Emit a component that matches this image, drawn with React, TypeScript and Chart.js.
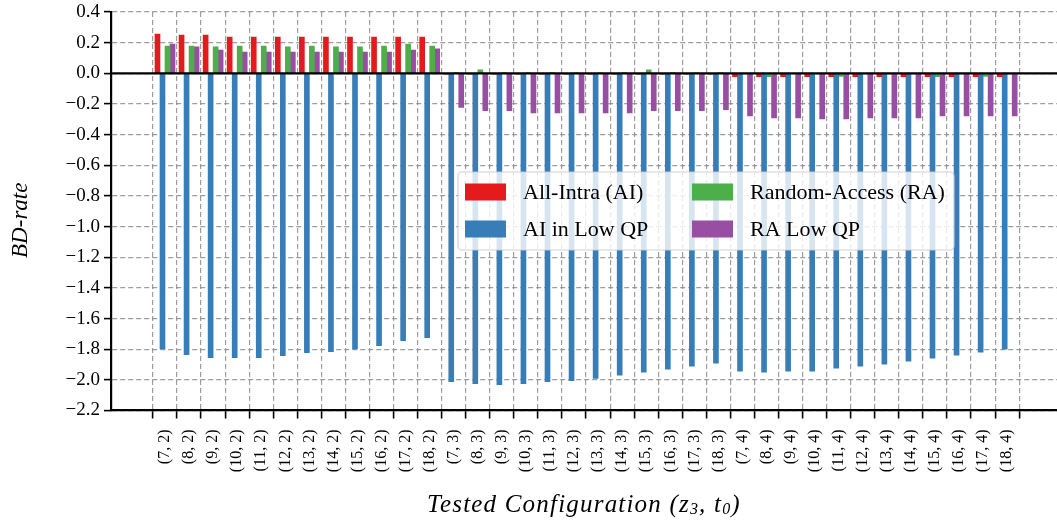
import React, { useEffect, useRef } from "react";
import { Chart, registerables } from "chart.js";

Chart.register(...registerables);

const zValues = [7, 8, 9, 10, 11, 12, 13, 14, 15, 16, 17, 18];
const tValues = [2, 3, 4];
const categories: string[] = tValues.flatMap((t) => zValues.map((z) => `(${z}, ${t})`));

const aiValues = [
  0.256, 0.25, 0.25, 0.237, 0.237, 0.237, 0.237, 0.237, 0.237, 0.237, 0.237, 0.237,
  -0.005, -0.005, -0.005, -0.005, -0.005, -0.005, -0.005, -0.005, -0.005, -0.005, -0.005, -0.005,
  -0.022, -0.022, -0.022, -0.022, -0.022, -0.022, -0.022, -0.022, -0.022, -0.022, -0.022, -0.022,
];
const aiLowQpValues = [
  -1.798, -1.835, -1.855, -1.855, -1.855, -1.842, -1.822, -1.816, -1.798, -1.777, -1.744, -1.725,
  -2.012, -2.025, -2.031, -2.025, -2.012, -2.005, -1.99, -1.97, -1.95, -1.93, -1.911, -1.891,
  -1.943, -1.95, -1.943, -1.943, -1.924, -1.911, -1.898, -1.878, -1.859, -1.839, -1.82, -1.8,
];
const raValues = [
  0.178, 0.178, 0.172, 0.178, 0.178, 0.172, 0.178, 0.172, 0.172, 0.178, 0.191, 0.178,
  0.004, 0.022, 0.004, 0.002, 0.004, 0.002, 0.002, 0.004, 0.022, 0.004, 0.002, 0.002,
  -0.004, -0.022, -0.004, -0.004, -0.02, -0.004, -0.004, -0.004, -0.022, -0.004, -0.02, -0.004,
];
const raLowQpValues = [
  0.191, 0.172, 0.152, 0.139, 0.139, 0.139, 0.139, 0.139, 0.139, 0.139, 0.152, 0.159,
  -0.222, -0.244, -0.244, -0.258, -0.258, -0.258, -0.258, -0.258, -0.244, -0.244, -0.244, -0.238,
  -0.278, -0.291, -0.291, -0.298, -0.298, -0.291, -0.291, -0.291, -0.278, -0.278, -0.278, -0.278,
];

const seriesNames = ["All-Intra (AI)", "AI in Low QP", "Random-Access (RA)", "RA Low QP"];
const seriesColors = ["#e41a1c", "#377eb8", "#4daf4a", "#984ea3"];
const seriesValues = [aiValues, aiLowQpValues, raValues, raLowQpValues];

const yTitle = "BD-rate";
const xTitlePrefix = "Tested Configuration (";
const xTitleSuffix = ")";

const FONT = "'Liberation Serif', 'Times New Roman', serif";

const titlesPlugin = {
  id: "axisTitles",
  afterDraw(chart: any) {
    const { ctx, chartArea } = chart;
    ctx.save();
    ctx.fillStyle = "#000";
    // y title
    ctx.save();
    ctx.translate(21, (chartArea.top + chartArea.bottom) / 2 + 9);
    ctx.rotate(-Math.PI / 2);
    ctx.font = `italic 23px ${FONT}`;
    ctx.textAlign = "center";
    ctx.textBaseline = "middle";
    ctx.fillText(yTitle, 0, 0);
    ctx.restore();
    // x title with subscripts
    const cx = (chartArea.left + chartArea.right) / 2;
    const cy = 505;
    const big = `italic 25px ${FONT}`;
    const small = `italic 16px ${FONT}`;
    (ctx as any).letterSpacing = "1.2px";
    const parts: [string, string, number][] = [
      [xTitlePrefix, big, 0],
      ["z", big, 0],
      ["3", small, 5],
      [", ", big, 0],
      ["t", big, 0],
      ["0", small, 5],
      [xTitleSuffix, big, 0],
    ];
    let total = 0;
    for (const [t, f] of parts) {
      ctx.font = f;
      total += ctx.measureText(t).width;
    }
    let x = cx - total / 2;
    ctx.textAlign = "left";
    ctx.textBaseline = "middle";
    for (const [t, f, dy] of parts) {
      ctx.font = f;
      ctx.fillText(t, x, cy + dy);
      x += ctx.measureText(t).width;
    }
    ctx.restore();
  },
};

const legendPlugin = {
  id: "insideLegend",
  afterDraw(chart: any) {
    const ctx = chart.ctx;
    const x0 = 458, y0 = 172, w = 496, h = 78, r = 4;
    ctx.save();
    ctx.beginPath();
    ctx.moveTo(x0 + r, y0);
    ctx.arcTo(x0 + w, y0, x0 + w, y0 + h, r);
    ctx.arcTo(x0 + w, y0 + h, x0, y0 + h, r);
    ctx.arcTo(x0, y0 + h, x0, y0, r);
    ctx.arcTo(x0, y0, x0 + w, y0, r);
    ctx.closePath();
    ctx.fillStyle = "rgba(255,255,255,0.8)";
    ctx.fill();
    ctx.strokeStyle = "rgba(204,204,204,0.9)";
    ctx.lineWidth = 1.2;
    ctx.stroke();
    const cols = [465, 692];
    const rows = [192, 229];
    ctx.font = `22px ${FONT}`;
    ctx.textBaseline = "middle";
    ctx.textAlign = "left";
    chart.data.datasets.forEach((ds: any, i: number) => {
      const col = Math.floor(i / 2);
      const row = i % 2;
      const sx = cols[col];
      const sy = rows[row];
      ctx.fillStyle = ds.backgroundColor;
      ctx.fillRect(sx, sy - 8.5, 41, 17);
      ctx.fillStyle = "#000";
      ctx.fillText(ds.label, sx + 58, sy + 1);
    });
    ctx.restore();
  },
};

const zeroLinePlugin = {
  id: "zeroLine",
  afterDatasetsDraw(chart: any) {
    const { ctx, chartArea, scales } = chart;
    const y = scales.y.getPixelForValue(0);
    ctx.save();
    ctx.strokeStyle = "#000";
    ctx.lineWidth = 2.2;
    ctx.beginPath();
    ctx.moveTo(chartArea.left, y);
    ctx.lineTo(chartArea.right, y);
    ctx.stroke();
    ctx.restore();
  },
};

export default function App() {
  const canvasRef = useRef<HTMLCanvasElement | null>(null);

  useEffect(() => {
    if (!canvasRef.current) return;
    Chart.defaults.font.family = FONT;
    Chart.defaults.color = "#000";
    const chart = new Chart(canvasRef.current, {
      type: "bar",
      data: {
        datasets: seriesNames.map((name, si) => ({
          label: name,
          data: seriesValues[si].map((v, i) => ({ x: i, y: v })),
          backgroundColor: seriesColors[si],
          borderWidth: 0,
          barThickness: 5,
          grouped: true,
        })),
      },
      options: {
        animation: false,
        responsive: false,
        maintainAspectRatio: false,
        layout: { padding: { top: 12, left: 0, right: 0, bottom: 0 } },
        plugins: {
          legend: { display: false },
          tooltip: { enabled: false },
        },
        scales: {
          x: {
            type: "linear",
            min: -2.244,
            max: 37.07,
            offset: false,
            afterBuildTicks: (axis: any) => {
              axis.ticks = categories.map((_, i) => ({ value: i }));
            },
            afterFit: (scale: any) => {
              scale.height = 115.5;
              scale.paddingLeft = 0;
              scale.paddingRight = 0;
            },
            ticks: {
              autoSkip: false,
              maxRotation: 90,
              minRotation: 90,
              includeBounds: false,
              padding: 11,
              font: { size: 16, family: FONT },
              color: "#000",
              callback: (v: any) => categories[Math.round(Number(v))] ?? "",
            },
            grid: {
              color: "rgba(140,140,140,0.85)",
              lineWidth: 1.2,
              tickColor: "#000",
              tickWidth: 1.6,
              tickLength: 8,
              tickBorderDash: [],
            },
            border: { display: true, color: "#000", width: 2.2, dash: [5, 3] },
          },
          y: {
            min: -2.2,
            max: 0.4,
            afterFit: (scale: any) => {
              scale.width = 111;
              scale.paddingTop = 0;
              scale.paddingBottom = 0;
            },
            ticks: {
              stepSize: 0.2,
              padding: 4,
              font: { size: 19, family: FONT },
              color: "#000",
              callback: (v: any) => {
                const n = Number(v);
                const s = Math.abs(n).toFixed(1);
                return n < -1e-9 ? "\u2212" + s : s;
              },
            },
            grid: {
              color: "rgba(140,140,140,0.85)",
              lineWidth: 1.2,
              tickColor: "#000",
              tickWidth: 1.6,
              tickLength: 7,
              tickBorderDash: [],
            },
            border: { display: true, color: "#000", width: 2.2, dash: [5, 3] },
          },
        },
      },
      plugins: [zeroLinePlugin, titlesPlugin, legendPlugin],
    } as any);
    return () => chart.destroy();
  }, []);

  return (
    <div style={{ position: "fixed", left: 0, top: 0, width: 1057, height: 526, background: "#fff" }}>
      <canvas ref={canvasRef} width={1057} height={526} style={{ display: "block" }} />
    </div>
  );
}
